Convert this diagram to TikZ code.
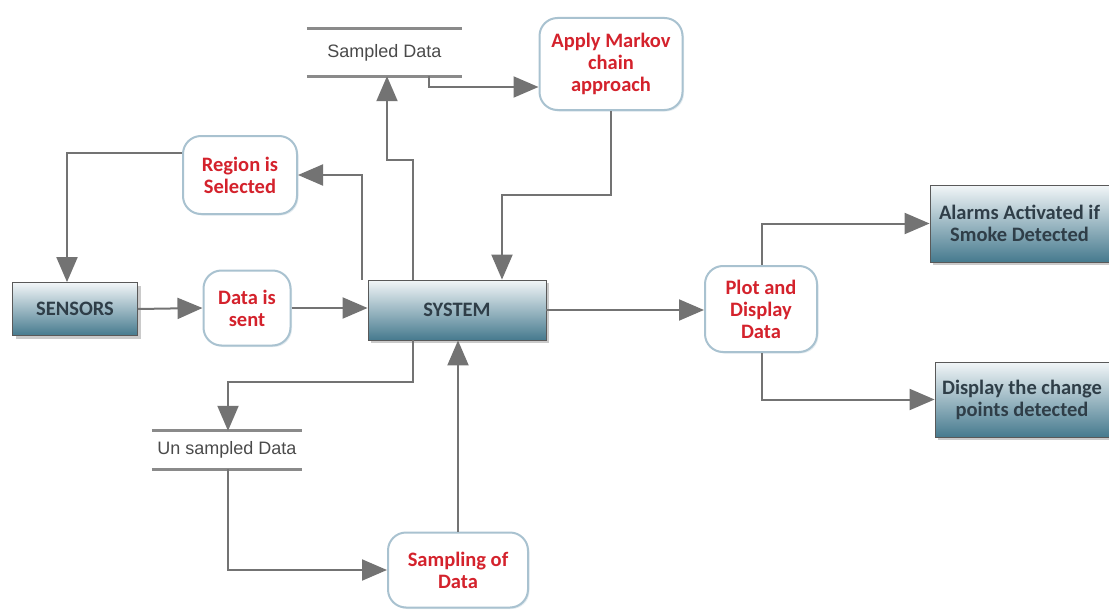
\documentclass[tikz,border=0pt]{standalone}
\usepackage{fontspec}
\setmainfont{Carlito}
\newfontfamily\arialf{Liberation Sans}
\usetikzlibrary{arrows.meta,shadows,calc}
\definecolor{linegray}{HTML}{737373}
\definecolor{redtxt}{HTML}{D4222C}
\definecolor{boxtxt}{HTML}{2F3E48}
\definecolor{gtop}{HTML}{F2F6F8}
\definecolor{gbot}{HTML}{467A8E}
\definecolor{procedge}{HTML}{A9C2D0}
\definecolor{storegray}{HTML}{8A8A8A}
\definecolor{storetxt}{HTML}{4A4A4A}
\tikzset{
  gbox/.style={rectangle, draw=gray!70!black, line width=0.8pt, top color=gtop, bottom color=gbot,
    text=boxtxt, font=\fontsize{20.5}{22}\selectfont\bfseries, align=center, inner sep=0pt,
    drop shadow={shadow xshift=3pt, shadow yshift=-3pt, fill=black!35, opacity=0.6}},
  proc/.style={rectangle, rounded corners=18pt, draw=procedge, line width=2pt, fill=white,
    text=redtxt, font=\fontsize{20.5}{22}\selectfont\bfseries, align=center, inner sep=0pt,
    drop shadow={shadow xshift=1.5pt, shadow yshift=-1.5pt, fill=procedge!60, opacity=0.5}},
  store/.style={rectangle, inner sep=0pt, text=storetxt, font=\arialf\fontsize{18}{20}\selectfont},
  storeline/.style={draw=storegray, line width=3pt},
  arr/.style={draw=linegray, line width=2pt, -{Triangle[length=25pt,width=21pt]}},
  ln/.style={draw=linegray, line width=2pt}
}
\begin{document}
\begin{tikzpicture}[x=1pt,y=-1pt]
\useasboundingbox (0,0) rectangle (1109,610);

% nodes
\node[gbox, minimum width=125pt, minimum height=53pt] (sensors) at (75,309) {SENSORS};
\node[proc, minimum width=87pt, minimum height=75pt] (sent) at (247,308) {Data is\\sent};
\node[gbox, minimum width=178pt, minimum height=60pt] (system) at (457,310) {SYSTEM};
\node[proc, minimum width=114pt, minimum height=78pt] (region) at (240,175) {Region is\\Selected};
\node[proc, minimum width=143pt, minimum height=92pt] (markov) at (611,64) {Apply Markov\\chain\\approach};
\node[proc, minimum width=112pt, minimum height=86pt] (plot) at (761,309) {Plot and\\Display\\Data};
\node[gbox, minimum width=179pt, minimum height=77pt] (alarm) at (1019.5,223.5) {Alarms Activated if\\Smoke Detected};
\node[gbox, minimum width=174pt, minimum height=75pt] (change) at (1022,399.5) {Display the change\\points detected};
\node[proc, minimum width=140pt, minimum height=75pt] (sampling) at (458,570) {Sampling of\\Data};

% data stores
\node[store, minimum width=155pt, minimum height=47pt] (sampled) at (384.5,52.5) {Sampled Data};
\draw[storeline] (sampled.north west) -- (sampled.north east);
\draw[storeline] (sampled.south west) -- (sampled.south east);
\node[store, minimum width=150pt, minimum height=38pt] (unsampled) at (227,450) {Un sampled Data};
\draw[storeline] (unsampled.north west) -- (unsampled.north east);
\draw[storeline] (unsampled.south west) -- (unsampled.south east);

% connectors
\draw[arr] (sensors.east) -- (sent.west);
\draw[arr] (sent.east) -- (sent.east -| system.west);
\draw[arr] ([xshift=-6pt]system.north west) |- (region.east);
\draw[arr] ([yshift=22pt]region.west) -| ([xshift=-8pt]sensors.north);
\coordinate (c1) at ($(system.north west)+(45pt,120pt)$);
\draw[arr] ([xshift=45pt]system.north west) -- (c1) -| ([xshift=2.5pt]sampled.south);
\draw[arr] ([xshift=44.5pt]sampled.south) |- ([yshift=-23pt]markov.west);
\draw[arr] (markov.south) |- ($(system.north)+(45pt,85pt)$) -- ([xshift=45pt]system.north);
\draw[arr] (system.east) -- (system.east -| plot.west);
\draw[arr] ([xshift=1pt]plot.north) |- (alarm.west);
\draw[arr] ([xshift=1pt]plot.south) |- (change.west);
\draw[arr] ([xshift=-44pt]system.south) |- ($(unsampled.north)+(1pt,49pt)$) -- ([xshift=1pt]unsampled.north);
\draw[arr] ([xshift=1pt]unsampled.south) |- (sampling.west);
\draw[arr] (sampling.north) -- (sampling.north |- system.south);
\end{tikzpicture}
\end{document}
